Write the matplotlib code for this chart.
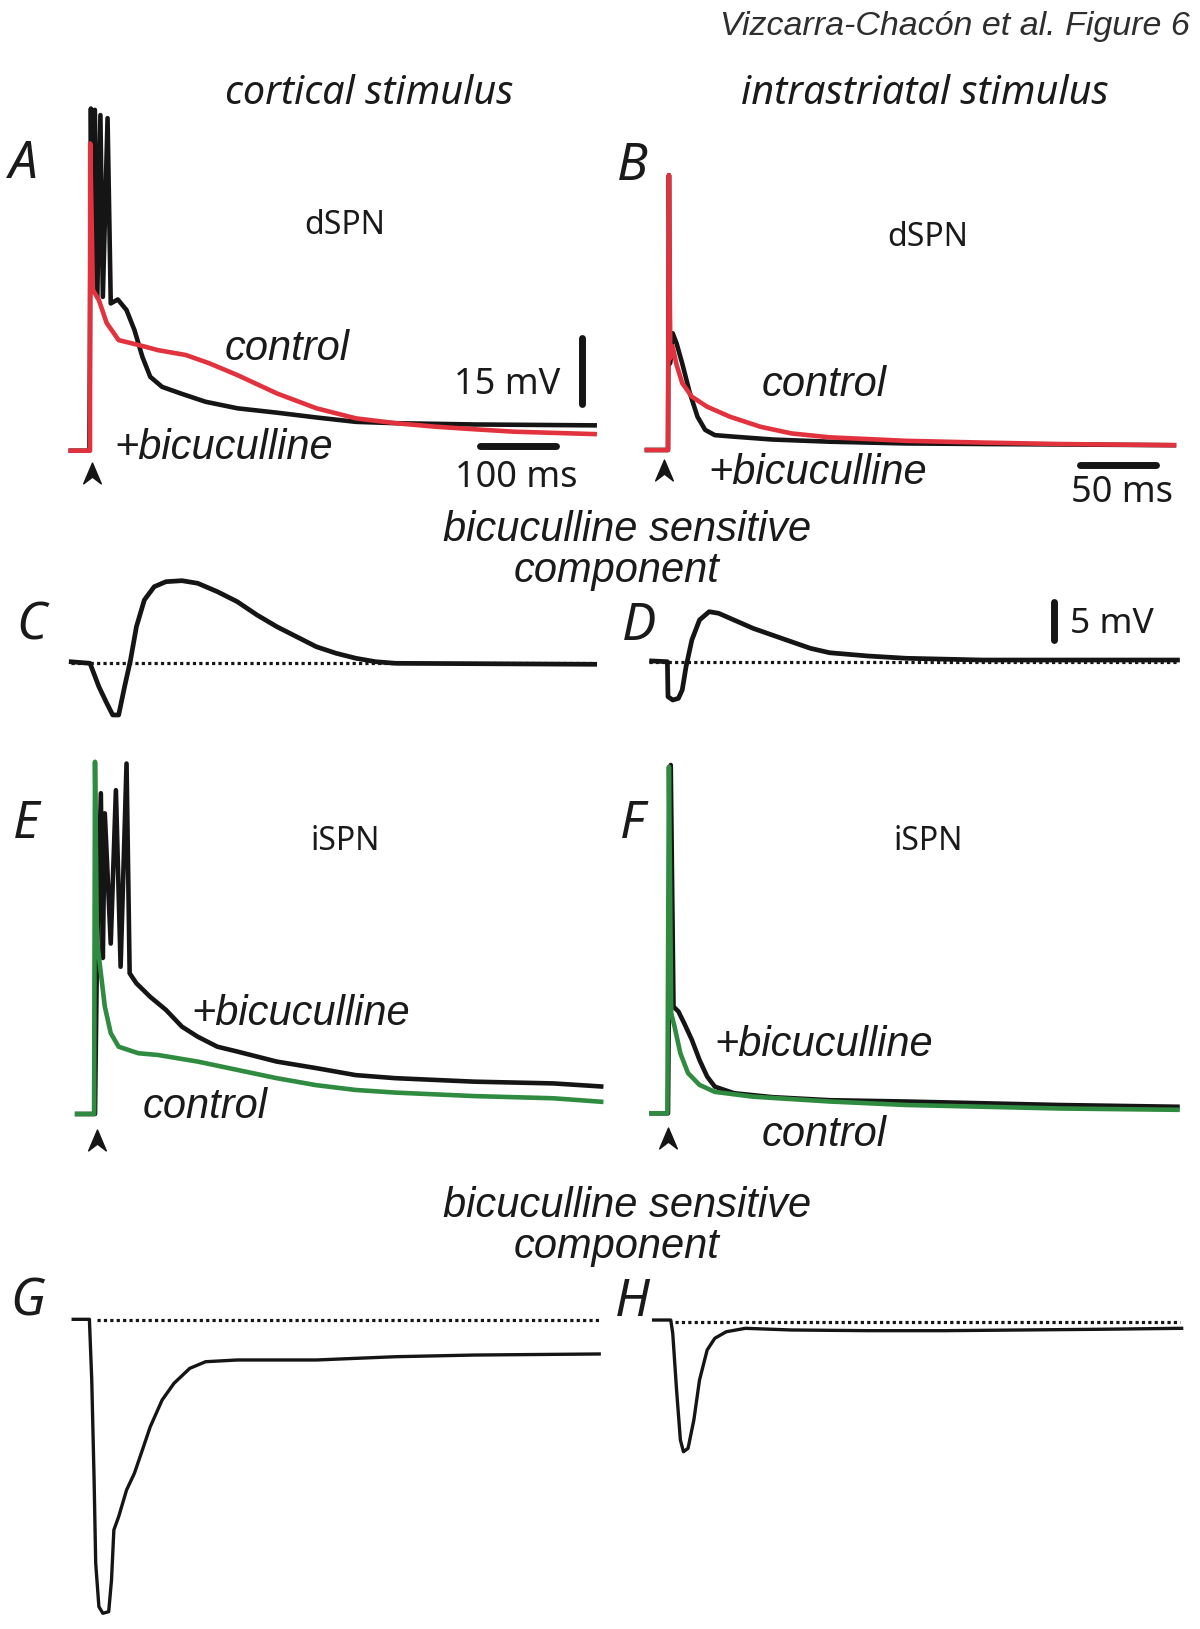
import matplotlib
matplotlib.use("Agg")
import matplotlib.pyplot as plt
from matplotlib.path import Path

W, H = 1200, 1629

# ---- traces: time in ms from stimulus, voltage in mV ----
# A: dSPN, cortical stimulus
A_ctrl_t = [-25.3, -1.4, 0.0, 0.3, 3.8, 11.6, 22.0, 37.7, 63.7, 89.7, 126, 157, 194, 246, 298, 350, 402, 454, 506, 558, 664]
A_ctrl_v = [0, 0, 0, 70.3, 36.8, 34.5, 29.2, 25.3, 24.2, 23.0, 21.9, 20.0, 17.3, 13.1, 9.7, 7.4, 6.3, 5.5, 4.9, 4.35, 3.8]
A_bic_t = [-25.3, -0.8, 0.2, 1.2, 3.3, 6.4, 9.6, 13.7, 16.9, 23.1, 27.3, 36.6, 48, 58.5, 68.9, 79.3, 94.9,
           121, 152, 194, 246, 298, 350, 402, 506, 664]
A_bic_v = [0, 0, 36.8, 78.3, 36.8, 78.0, 35.2, 76.8, 35.2, 76.1, 33.7, 34.6, 32.2, 27.6, 21.5, 16.9, 14.6,
           13.0, 11.2, 9.7, 8.7, 7.6, 6.6, 6.3, 6.0, 5.8]

# B: dSPN, intrastriatal stimulus
B_ctrl_t = [-13.8, 0, 0.6, 1.5, 3.0, 5.6, 9.3, 15.6, 25.6, 40.6, 60.6, 80.6, 105.6, 155.7, 205.7, 255.7, 330.7]
B_ctrl_v = [0, 0, 62.9, 21.0, 23.7, 19.5, 15.3, 12.2, 9.9, 7.6, 5.3, 3.8, 2.9, 2.1, 1.7, 1.37, 1.1]
B_bic_t = [-13.8, 0, 0.6, 1.3, 3.1, 5.6, 9.3, 14.3, 19.3, 24.3, 30.6, 43.1, 68.1, 105.6, 155.7, 205.7, 330.7]
B_bic_v = [0, 0, 62.9, 19.8, 26.7, 24.4, 19.8, 13.0, 7.6, 4.6, 3.4, 3.05, 2.4, 1.9, 1.5, 1.37, 1.1]

# C, D: bicuculline sensitive component (dSPN)
C_t = [-24.7, 0, 11.7, 22.1, 29.9, 37.7, 45.5, 53.3, 61.1, 71.5, 84.5, 100, 121, 141.7, 167.7, 193.7,
       219.7, 245.8, 271.8, 297.8, 323.8, 349.9, 375.8, 402, 664]
C_v = [0.2, 0, -3.08, -5.26, -6.80, -6.80, -3.08, 0.43, 4.82, 8.33, 10.08, 10.74, 10.87, 10.53, 9.42, 8.11,
       6.36, 4.82, 3.50, 2.18, 1.32, 0.66, 0.21, 0.0, -0.13]
D_t = [-10.7, -0.4, 0, 3.1, 6.8, 9.3, 11.8, 15.6, 20.6, 26.9, 33.1, 43.1, 55.6, 68.1, 80.6, 93.1, 105.6,
       130.7, 155.7, 205.7, 333]
D_v = [0.1, 0, -4.6, -5.04, -4.82, -3.72, -0.66, 2.86, 5.49, 6.58, 6.37, 5.49, 4.39, 3.51, 2.63, 1.76, 1.18,
       0.75, 0.45, 0.22, 0.22]

# E: iSPN, cortical stimulus
E_ctrl_t = [-23.5, -1.2, 0, 2.5, 7.7, 12.9, 20.7, 31.1, 57.1, 83.1, 135, 187, 239, 291, 343, 395, 499, 603, 666]
E_ctrl_v = [0, 0, 80.6, 39.8, 32.2, 24.6, 18.5, 15.4, 13.9, 13.5, 12.0, 10.1, 8.2, 6.6, 5.5, 4.9, 4.1, 3.6, 2.8]
E_bic_t = [-23.5, -1.2, 0, 2.5, 7.7, 10.3, 12.9, 20.7, 27.5, 33.7, 41.5, 45.6, 54.5, 72.7, 93.5, 114.3,
           135, 161, 187, 239, 291, 343, 395, 499, 603, 666]
E_bic_v = [0, 0, 0, 35.2, 73.4, 35.7, 68.8, 39.0, 74.1, 33.7, 80.2, 32.2, 29.9, 26.8, 23.8, 20.0,
           17.7, 15.4, 14.3, 12.0, 10.5, 8.9, 8.2, 7.4, 7.0, 6.3]

# F: iSPN, intrastriatal stimulus
F_ctrl_t = [-10.7, -0.4, 0.6, 2.1, 4.3, 8.1, 13.1, 20.6, 30.6, 55.6, 105.6, 155.7, 205.7, 255.7, 333]
F_ctrl_v = [0, 0, 79.3, 22.9, 19.8, 13.7, 9.2, 6.5, 4.9, 3.8, 2.7, 1.9, 1.5, 1.1, 0.8]
F_bic_t = [-10.7, 0, 1.8, 3.6, 6.8, 10.6, 15.6, 20.6, 25.6, 30.6, 43.1, 68.1, 105.6, 155.7, 205.7, 255.7, 333]
F_bic_v = [0, 0, 79.7, 24.4, 23.3, 20.6, 16.8, 12.2, 8.4, 6.1, 4.6, 3.7, 3.0, 2.7, 2.3, 1.9, 1.5]

# G, H: bicuculline sensitive component (iSPN)
G_t = [-22.1, -0.8, 2.3, 5.4, 7.5, 11.7, 16.9, 24.6, 28.3, 31.4, 37.7, 48.1, 58.4, 68.9, 79.3, 94.9,
       110.5, 131.3, 152.1, 194, 298, 402, 506, 670]
G_v = [0.09, 0.09, -7.89, -21.05, -32.01, -37.72, -38.59, -38.38, -34.21, -27.63, -25.88, -22.37, -20.17,
       -17.11, -14.04, -10.53, -8.33, -6.36, -5.49, -5.26, -5.26, -4.83, -4.61, -4.47]
H_t = [-9.4, 1.8, 3.1, 5.6, 8.1, 10.1, 13.1, 16.9, 20.6, 25.6, 30.6, 38.1, 50.6, 80.6, 130.7, 180.7,
       230.7, 280.7, 335.7]
H_v = [0.22, 0.22, -1.53, -8.99, -15.57, -17.11, -16.66, -12.93, -7.67, -3.72, -2.18, -1.32, -0.87, -1.09,
       -1.18, -1.18, -1.09, -1.0, -0.87]

# zero-level dotted lines (ms)
C_zero = [-25, 664]
D_zero = [-12.4, 333]
G_zero = [9, 670]
H_zero = [4.3, 334.5]

RED = "#e1323e"
GREEN = "#2e8b3f"
BLACK = "#151515"

fig = plt.figure(figsize=(W / 100, H / 100), dpi=100)


def panel(box, x0, y0, px_ms, px_mv):
    # box in figure pixels (left, top, right, bottom); x0/y0 = pixel of stimulus/baseline
    l, t, r, b = box
    ax = fig.add_axes([l / W, 1 - b / H, (r - l) / W, (b - t) / H])
    ax.set_xlim((l - x0) / px_ms, (r - x0) / px_ms)
    ax.set_ylim((y0 - b) / px_mv, (y0 - t) / px_mv)
    ax.axis("off")
    return ax


def label(x, y, s, size, style="normal", family="Noto Sans", ha="center", color="#1a1a1a"):
    y = y + 3
    fig.text(x / W, 1 - y / H, s, ha=ha, va="center", fontsize=size, fontstyle=style,
             family=family, color=color)


chevron = Path([(0, 1), (0.85, -1), (0, -0.35), (-0.85, -1), (0, 1)],
               [Path.MOVETO, Path.LINETO, Path.LINETO, Path.LINETO, Path.CLOSEPOLY])


def arrow(ax, t, v):
    ax.plot([t], [v], marker=chevron, markersize=15, color=BLACK, clip_on=False)


def vbar(ax, t, v0, dv):
    ax.plot([t, t], [v0, v0 + dv], color=BLACK, lw=5, solid_capstyle="round", clip_on=False)


def hbar(ax, t0, dt, v):
    ax.plot([t0, t0 + dt], [v, v], color=BLACK, lw=5, solid_capstyle="round", clip_on=False)


def zero_line(ax, span):
    ax.plot(span, [0, 0], color=BLACK, lw=2.3, linestyle=(0, (1, 1)), dash_capstyle="butt")


TR = 3.3

# A
axA = panel((40, 95, 610, 500), 90, 450.7, 0.76, 4.37)
axA.plot(A_bic_t, A_bic_v, color=BLACK, lw=TR)
axA.plot(A_ctrl_t, A_ctrl_v, color=RED, lw=TR)
vbar(axA, 647.4, 10.8, 15)
hbar(axA, 513, 100, 1.1)
arrow(axA, 2.6, -5.1)

# B
axB = panel((620, 150, 1190, 510), 668, 450, 1.53, 4.37)
axB.plot(B_bic_t, B_bic_v, color=BLACK, lw=TR)
axB.plot(B_ctrl_t, B_ctrl_v, color=RED, lw=TR)
hbar(axB, 269, 50, -3.4)
arrow(axB, -2.6, -4.6)

# C
axC = panel((40, 560, 610, 730), 90, 663.3, 0.76, 7.6)
zero_line(axC, C_zero)
axC.plot(C_t, C_v, color=BLACK, lw=3.4)

# D
axD = panel((620, 580, 1190, 720), 668, 661.7, 1.53, 7.6)
zero_line(axD, D_zero)
axD.plot(D_t, D_v, color=BLACK, lw=3.4)
vbar(axD, 252, 2.86, 5)

# E
axE = panel((40, 740, 610, 1150), 95, 1114, 0.76, 4.37)
axE.plot(E_bic_t, E_bic_v, color=BLACK, lw=TR)
axE.plot(E_ctrl_t, E_ctrl_v, color=GREEN, lw=TR)
arrow(axE, 2.6, -5.9)

# F
axF = panel((620, 740, 1190, 1150), 668, 1113.3, 1.53, 4.37)
axF.plot(F_bic_t, F_bic_v, color=BLACK, lw=TR)
axF.plot(F_ctrl_t, F_ctrl_v, color=GREEN, lw=TR)
arrow(axF, 0, -5.65)

# G
axG = panel((40, 1290, 610, 1629), 90, 1320, 0.76, 7.6)
zero_line(axG, G_zero)
axG.plot(G_t, G_v, color=BLACK, lw=2.4)

# H
axH = panel((620, 1290, 1190, 1480), 668, 1321.7, 1.53, 7.6)
zero_line(axH, H_zero)
axH.plot(H_t, H_v, color=BLACK, lw=2.4)

# ---- text ----
label(1190, 23, "Vizcarra-Chacón et al. Figure 6", 24.5, style="italic", family="Liberation Sans",
      ha="right", color="#2e2e2e")
label(369, 91, "cortical stimulus", 28.5, style="italic")
label(925, 91, "intrastriatal stimulus", 28.5, style="italic")

for s, x, y in [("A", 23, 161), ("B", 632, 163), ("C", 31, 623), ("D", 639, 623),
                ("E", 26, 821), ("F", 632, 821), ("G", 28, 1299), ("H", 632, 1299)]:
    label(x, y, s, 37, style="italic")

label(345, 223, "dSPN", 23)
label(928, 234, "dSPN", 23)
label(345, 838, "iSPN", 23)
label(928, 839, "iSPN", 23)

ARIAL = "Liberation Sans"
IT = 30
label(287, 346, "control", IT, style="italic", family=ARIAL)
label(224, 445, "+bicuculline", IT, style="italic", family=ARIAL)
label(824, 382, "control", IT, style="italic", family=ARIAL)
label(818, 470, "+bicuculline", IT, style="italic", family=ARIAL)
label(301, 1011, "+bicuculline", IT, style="italic", family=ARIAL)
label(205, 1104, "control", IT, style="italic", family=ARIAL)
label(824, 1042, "+bicuculline", IT, style="italic", family=ARIAL)
label(824, 1132, "control", IT, style="italic", family=ARIAL)

label(627, 527, "bicuculline sensitive", IT, style="italic", family=ARIAL)
label(617, 568, "component", IT, style="italic", family=ARIAL)
label(627, 1203, "bicuculline sensitive", IT, style="italic", family=ARIAL)
label(617, 1244, "component", IT, style="italic", family=ARIAL)

label(507, 382, "15 mV", 26)
label(516, 475, "100 ms", 26)
label(1122, 490, "50 ms", 26)
label(1070, 621, "5 mV", 25.5, ha="left")

fig.savefig("out.png", dpi=100)
